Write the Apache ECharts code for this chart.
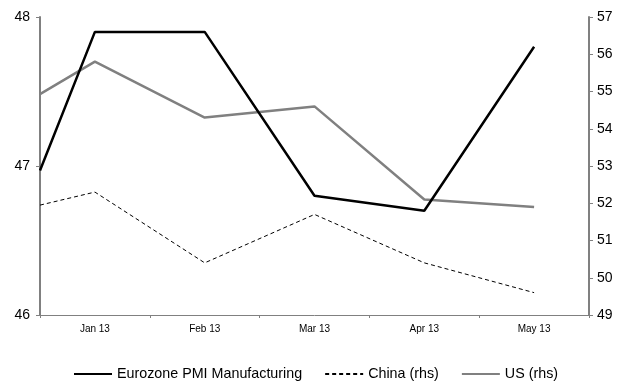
<!DOCTYPE html>
<html>
<head>
<meta charset="utf-8">
<script src="https://cdn.jsdelivr.net/npm/echarts@6/dist/echarts.min.js"></script>
<style>
  html, body { margin: 0; padding: 0; background: #fff; }
  #chart { width: 626px; height: 385px; }
</style>
</head>
<body>
<div id="chart"></div>
<script>
// Month labels shown under the x axis
var months = ['Jan 13', 'Feb 13', 'Mar 13', 'Apr 13', 'May 13'];
// Position of each reading along the month bands (first reading sits at the left edge)
var positions = [-0.5, 0, 1, 2, 3, 4];
// PMI readings
var eurozone = [46.97, 47.9, 47.9, 46.8, 46.7, 47.8];
var china = [51.95, 52.3, 50.4, 51.7, 50.4, 49.6];
var us = [54.93, 55.8, 54.3, 54.6, 52.1, 51.9];
// Axis ranges
var leftTicks = [46, 48, 1];
var rightTicks = [49, 57, 1];

function pairs(vals) {
  return vals.map(function (v, i) { return [positions[i], v]; });
}

var FONT = "'Liberation Sans Narrow', 'Liberation Sans', Arial, sans-serif";
var AXIS_GRAY = '#808080';

var chart = echarts.init(document.getElementById('chart'));
chart.setOption({
  animation: false,
  backgroundColor: '#fff',
  grid: { left: 40, right: 37, top: 17, bottom: 70, containLabel: false },
  legend: {
    orient: 'horizontal',
    top: 362,
    left: 68,
    itemWidth: 38,
    itemHeight: 14,
    itemGap: 22,
    itemStyle: { opacity: 0 },
    textStyle: { fontFamily: FONT, fontSize: 14.3, color: '#000' },
    data: ['Eurozone PMI Manufacturing', 'China (rhs)', 'US (rhs)']
  },
  xAxis: [
    {
      type: 'category',
      data: months,
      boundaryGap: true,
      axisLine: { onZero: false, lineStyle: { color: AXIS_GRAY, width: 1 } },
      axisTick: { show: true, length: 3, lineStyle: { color: AXIS_GRAY } },
      axisLabel: { fontFamily: FONT, fontSize: 10, color: '#000', margin: 9 },
      splitLine: { show: false }
    },
    {
      type: 'value',
      min: -0.5,
      max: 4.5,
      show: false,
      axisLine: { onZero: false },
      splitLine: { show: false }
    }
  ],
  yAxis: [
    {
      type: 'value',
      min: leftTicks[0],
      max: leftTicks[1],
      interval: leftTicks[2],
      position: 'left',
      axisLine: { show: true, onZero: false, lineStyle: { color: AXIS_GRAY, width: 2 } },
      axisTick: { show: true, length: 4, lineStyle: { color: AXIS_GRAY } },
      axisLabel: { fontFamily: FONT, fontSize: 14, color: '#000', margin: 10 },
      splitLine: { show: false }
    },
    {
      type: 'value',
      min: rightTicks[0],
      max: rightTicks[1],
      interval: rightTicks[2],
      position: 'right',
      axisLine: { show: true, onZero: false, lineStyle: { color: AXIS_GRAY, width: 2 } },
      axisTick: { show: true, length: 4, lineStyle: { color: AXIS_GRAY } },
      axisLabel: { fontFamily: FONT, fontSize: 14, color: '#000', margin: 8 },
      splitLine: { show: false }
    }
  ],
  series: [
    {
      name: 'Eurozone PMI Manufacturing',
      type: 'line',
      xAxisIndex: 1,
      yAxisIndex: 0,
      data: pairs(eurozone),
      showSymbol: false,
      symbol: 'none',
      lineStyle: { color: '#000', width: 2.5 },
      itemStyle: { color: '#000' },
      z: 3
    },
    {
      name: 'China (rhs)',
      type: 'line',
      xAxisIndex: 1,
      yAxisIndex: 1,
      data: pairs(china),
      showSymbol: false,
      symbol: 'none',
      lineStyle: { color: '#000', width: 1, type: [4, 3] },
      itemStyle: { color: '#000' },
      z: 2
    },
    {
      name: 'US (rhs)',
      type: 'line',
      xAxisIndex: 1,
      yAxisIndex: 1,
      data: pairs(us),
      showSymbol: false,
      symbol: 'none',
      lineStyle: { color: AXIS_GRAY, width: 2.5 },
      itemStyle: { color: AXIS_GRAY },
      z: 2
    }
  ]
});
</script>
</body>
</html>
